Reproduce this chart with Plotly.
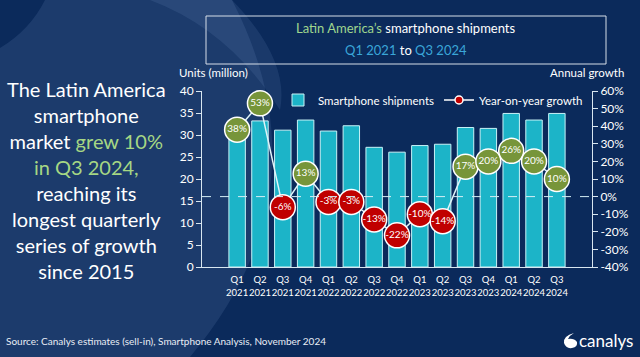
import plotly.graph_objects as go

W, H = 640, 357

quarters = ["Q1<br>2021", "Q2<br>2021", "Q3<br>2021", "Q4<br>2021",
            "Q1<br>2022", "Q2<br>2022", "Q3<br>2022", "Q4<br>2022",
            "Q1<br>2023", "Q2<br>2023", "Q3<br>2023", "Q4<br>2023",
            "Q1<br>2024", "Q2<br>2024", "Q3<br>2024"]
shipments = [31.9, 33.2, 31.1, 33.4, 30.9, 32.1, 27.2, 26.1,
             27.6, 27.9, 31.7, 31.5, 34.9, 33.4, 34.9]
growth = [38, 53, -6, 13, -3, -3, -13, -22, -10, -14, 17, 20, 26, 20, 10]
left_ticks = [0, 5, 10, 15, 20, 25, 30, 35, 40]
right_ticks = [-40, -30, -20, -10, 0, 10, 20, 30, 40, 50, 60]

GREEN = "#77953a"
RED = "#c00000"
BAR = "#1cb4c8"
BG = "#0b2a5b"
FONT = "Lato"


def px(x):
    return x / W


def py(y):
    return 1 - y / H


marker_colors = [GREEN if g >= 0 else RED for g in growth]

fig = go.Figure()
fig.add_trace(go.Bar(
    x=quarters, y=shipments, name="Smartphone shipments",
    marker=dict(color=BAR, line=dict(color="#c8f2f7", width=1)),
    yaxis="y", showlegend=True,
))
fig.add_trace(go.Scatter(
    x=quarters, y=growth, yaxis="y2", mode="lines+markers+text",
    text=[f"{g}%" for g in growth], textposition="middle center",
    textfont=dict(color="white", size=10, family=FONT),
    line=dict(color="#dff3f8", width=1.5),
    marker=dict(size=25, color=marker_colors, line=dict(color="white", width=1.5)),
    showlegend=False, cliponaxis=False,
))
fig.add_trace(go.Scatter(
    x=[quarters[0]], y=[None], yaxis="y2", mode="lines+markers",
    name="Year-on-year growth",
    line=dict(color="white", width=1.5),
    marker=dict(size=8, color=RED, line=dict(color="white", width=1.5)),
))

shapes = []
# background swoosh
shapes.append(dict(
    type="path", xref="paper", yref="paper", layer="below",
    path=(f"M {px(45)},{py(0)} L {px(232)},{py(0)} "
          f"Q {px(330)},{py(190)} {px(190)},{py(357)} "
          f"L {px(0)},{py(357)} L {px(0)},{py(48)} "
          f"Q {px(30)},{py(30)} {px(45)},{py(0)} Z"),
    fillcolor="rgba(120,150,200,0.16)", line=dict(width=0),
))
shapes.append(dict(
    type="path", xref="paper", yref="paper", layer="below",
    path=(f"M {px(150)},{py(0)} L {px(232)},{py(0)} "
          f"Q {px(290)},{py(60)} {px(280)},{py(110)} "
          f"Q {px(230)},{py(30)} {px(150)},{py(0)} Z"),
    fillcolor="rgba(140,170,220,0.12)", line=dict(width=0),
))
# title box
shapes.append(dict(
    type="rect", xref="paper", yref="paper",
    x0=px(206), x1=px(606), y0=py(16), y1=py(64),
    line=dict(color="#d5dde8", width=1), fillcolor="rgba(0,0,0,0)",
))
# zero dashed line
shapes.append(dict(
    type="line", xref="paper", yref="y2", x0=px(202), x1=px(592), y0=0, y1=0,
    line=dict(color="#d6eef5", width=1, dash="dash"),
))
# canalys icon
shapes.append(dict(
    type="path", xref="paper", yref="paper",
    path=(f"M {px(574)},{py(333)} Q {px(563)},{py(336)} {px(564)},{py(343)} "
          f"Q {px(566)},{py(349)} {px(572)},{py(348)} "
          f"Q {px(578)},{py(347)} {px(577)},{py(342)} "
          f"Q {px(574)},{py(338)} {px(568)},{py(339)} "
          f"Q {px(570)},{py(335)} {px(574)},{py(333)} Z"),
    fillcolor="white", line=dict(width=0),
))


def ann(text, x, y, size, xanchor="center", color="white", align="center"):
    return dict(text=text, x=px(x), y=py(y), xref="paper", yref="paper",
                showarrow=False, align=align,
                font=dict(size=size, color=color, family=FONT),
                xanchor=xanchor, yanchor="middle")


annotations = [
    ann("<span style='color:#9fd68e'>Latin America’s</span> smartphone shipments", 406, 28, 13),
    ann("<span style='color:#3aa6d8'>Q1 2021</span> to <span style='color:#3aa6d8'>Q3 2024</span>", 406, 50, 13),
    ann("The Latin America<br>smartphone<br>market <span style='color:#a6d784'>grew 10%</span><br>"
        "<span style='color:#a6d784'>in Q3 2024,</span><br>reaching its<br>longest quarterly<br>"
        "series of growth<br>since 2015", 86, 180, 20),
    ann("Units (million)", 177, 73, 11.5, xanchor="left"),
    ann("Annual growth", 626, 73, 11.5, xanchor="right"),
    ann("Source: Canalys estimates (sell-in), Smartphone Analysis, November 2024", 4, 341, 10,
        xanchor="left", color="#e8edf5"),
    ann("canalys", 636, 340, 17, xanchor="right"),
]

axis_font = dict(size=12, color="white", family=FONT)
fig.update_layout(
    width=W, height=H,
    margin=dict(l=0, r=0, t=0, b=0, autoexpand=False),
    paper_bgcolor=BG, plot_bgcolor="rgba(0,0,0,0)",
    bargap=0.28,
    xaxis=dict(domain=[px(202), px(592)], tickfont=dict(size=9.5, color="white", family=FONT),
               showline=True, linecolor="#d8e6f0", linewidth=1, ticks="", showgrid=False,
               tickangle=0, automargin=False, fixedrange=True, ticklabelstandoff=4),
    yaxis=dict(domain=[py(267), py(91)], range=[0, 40], tickvals=left_ticks,
               tickfont=axis_font, showline=True, linecolor="#d8e6f0", linewidth=1,
               ticks="outside", ticklen=5, tickcolor="#d8e6f0", showgrid=False, zeroline=False,
               automargin=False),
    yaxis2=dict(domain=[py(267), py(91)], range=[-40, 60], tickvals=right_ticks,
                ticktext=[f"{t}%" for t in right_ticks], overlaying="y", side="right",
                anchor="x", tickfont=axis_font, showline=True, linecolor="#d8e6f0", linewidth=1,
                ticks="outside", ticklen=5, tickcolor="#d8e6f0", showgrid=False, zeroline=False,
                automargin=False),
    legend=dict(orientation="h", x=px(278), y=py(100), xanchor="left", yanchor="middle",
                font=dict(size=11.5, color="white", family=FONT), bgcolor="rgba(0,0,0,0)",
                tracegroupgap=0, itemwidth=30),
    shapes=shapes, annotations=annotations,
)

fig.write_html("out.html", config={"displayModeBar": False},
               post_script="document.body.style.margin='0';")
